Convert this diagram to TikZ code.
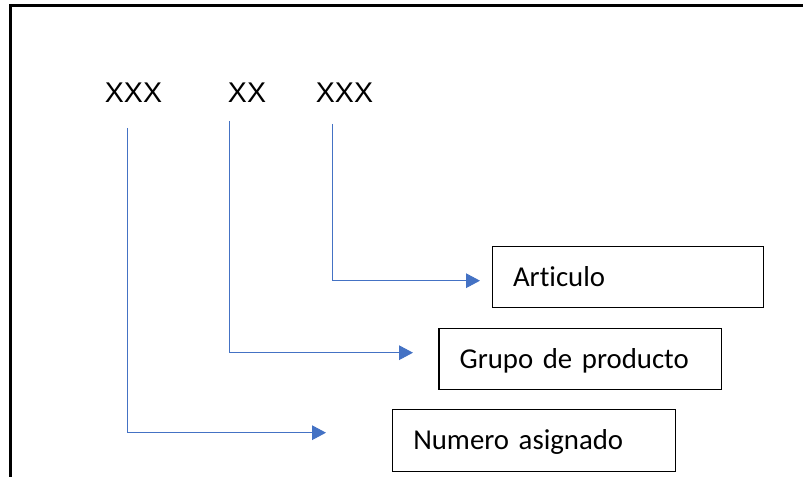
\documentclass[tikz,border=0pt]{standalone}
\usepackage{fontspec}
\setmainfont{Carlito}[Ligatures=NoCommon]
\newfontfamily\codefont{Liberation Sans}
\usetikzlibrary{arrows.meta}

\begin{document}
\begin{tikzpicture}[x=0.75pt,y=0.75pt,yscale=-1,xscale=1,
  code/.style={font=\codefont\fontsize{21.4}{25}\selectfont, anchor=base, inner sep=0pt},
  field/.style={draw, line width=0.9pt, inner xsep=15.5pt, inner ysep=0pt, minimum height=46pt, text height=14pt, text depth=0pt, align=left, font=\fontsize{21.6}{26}\selectfont},
  link/.style={draw={rgb, 255:red, 68; green, 114; blue, 196}, line width=0.75pt, -{Triangle[length=10.5pt,width=11pt]}}]
%set diagram size to 803 x 477
\clip (0,0) rectangle (803,477);

%Shape: Frame, cut off at right and bottom
\draw [line width=2.25pt] (10,5.5) rectangle (830,500) ;

% Text Node
\node [code] (num) at (133.5,103) {XXX};
% Text Node
\node [code] (grp) at (247,103) {XX};
% Text Node
\node [code] (art) at (344.5,103) {XXX};

% Text Node
\node [field, text width=172.3pt] (artbox) at (627.9,277) {Articulo};
% Text Node
\node [field, text width=180.9pt] (grpbox) at (580.2,358.9) {Grupo de producto};
% Text Node
\node [field, text width=181.1pt] (numbox) at (534,440.5) {Numero asignado};

%Connector ends
\coordinate (art1) at (332,124);
\coordinate (art2) at (480,280.7);
\coordinate (grp1) at (229.5,121);
\coordinate (grp2) at (413,352.7);
\coordinate (num1) at (127,128);
\coordinate (num2) at (326,432.7);

%Elbow Lines
\draw [link] (art1) |- (art2) ;
\draw [link] (grp1) |- (grp2) ;
\draw [link] (num1) |- (num2) ;

\end{tikzpicture}
\end{document}
